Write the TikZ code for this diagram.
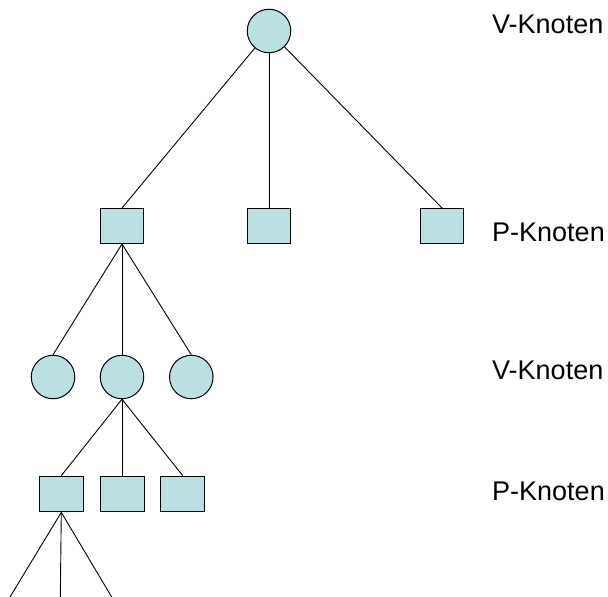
\documentclass[tikz,border=0pt]{standalone}
\usepackage{fontspec}
\setmainfont{Liberation Sans}
\definecolor{nodefill}{HTML}{BBE0E3}
\begin{document}
\begin{tikzpicture}[x=1pt,y=-1pt,
  vnode/.style={circle,draw=black,fill=nodefill,line width=1pt,minimum size=43.5pt,inner sep=0pt},
  pnode/.style={rectangle,draw=black,fill=nodefill,line width=1pt,minimum width=43pt,minimum height=35pt,inner sep=0pt},
  edge/.style={draw=black,line width=0.9pt},
  lbl/.style={anchor=base west,inner sep=0pt,font=\fontsize{27}{32}\selectfont}]
\useasboundingbox (0,0) rectangle (608,597);
% nodes
\node[vnode] (top) at (269,31) {};
\node[pnode] (s1) at (122,226) {};
\node[pnode] (s2) at (269,226) {};
\node[pnode] (s3) at (442,226) {};
\node[vnode] (c1) at (53,377) {};
\node[vnode] (c2) at (122,377) {};
\node[vnode] (c3) at (191.3,377) {};
\node[pnode,minimum width=44pt,minimum height=35.7pt] (t1) at (61.3,494) {};
\node[pnode,minimum width=44pt,minimum height=35.7pt] (t2) at (122,494) {};
\node[pnode,minimum width=44pt,minimum height=35.7pt] (t3) at (182.7,494) {};
\coordinate (b1) at (10,597);
\coordinate (b2) at (60.3,597);
\coordinate (b3) at (111.7,597);
% labels
\node[lbl] (l1) at (492,34) {V-Knoten};
\node[lbl] (l2) at (492,241.5) {P-Knoten};
\node[lbl] (l3) at (492,379.5) {V-Knoten};
\node[lbl] (l4) at (492,500) {P-Knoten};
% edges
\begin{scope}[on background layer/.style={}]
\end{scope}
\draw[edge] (top) -- (s1.north);
\draw[edge] (top) -- (s2.north);
\draw[edge] (top) -- (s3.north);
\draw[edge] (s1.south) -- (c1.north);
\draw[edge] (s1.south) -- (c2.north);
\draw[edge] (s1.south) -- (c3.north);
\draw[edge] (c2.south) -- (t1.north);
\draw[edge] (c2.south) -- (t2.north);
\draw[edge] (c2.south) -- (t3.north);
\draw[edge] (t1.south) -- (b1);
\draw[edge] (t1.south) -- (b2);
\draw[edge] (t1.south) -- (b3);
\end{tikzpicture}
\end{document}
